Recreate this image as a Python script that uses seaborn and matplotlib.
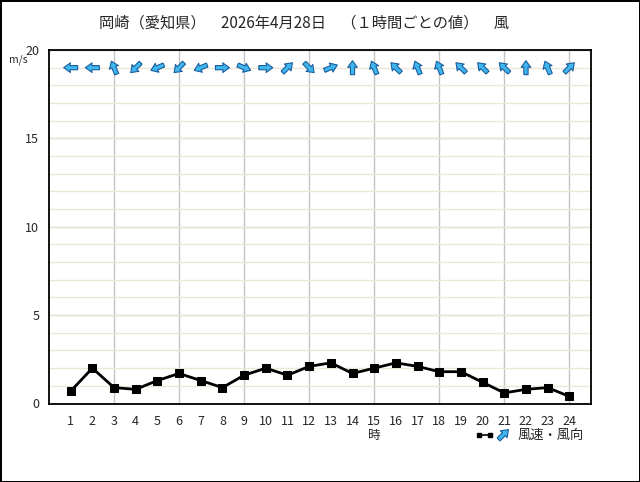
import numpy as np
import pandas as pd
import matplotlib
matplotlib.use("Agg")
import matplotlib.pyplot as plt
import seaborn as sns
from matplotlib.lines import Line2D

# hourly data
hours = list(range(1, 25))
speed = [0.7, 2.0, 0.9, 0.8, 1.3, 1.7, 1.3, 0.9, 1.6, 2.0, 1.6, 2.1,
         2.3, 1.7, 2.0, 2.3, 2.1, 1.8, 1.8, 1.2, 0.6, 0.8, 0.9, 0.4]
# wind direction (where the wind comes from)
direction = ['E', 'E', 'SSE', 'NE', 'ENE', 'NE', 'ENE', 'W', 'WNW', 'W', 'SW', 'NW',
             'WSW', 'S', 'SSE', 'SE', 'SSE', 'SSE', 'SE', 'SE', 'SE', 'S', 'SSE', 'SW']
title = '岡崎（愛知県）　2026年4月28日　（１時間ごとの値）　風'

compass = ['N', 'NNE', 'NE', 'ENE', 'E', 'ESE', 'SE', 'SSE',
           'S', 'SSW', 'SW', 'WSW', 'W', 'WNW', 'NW', 'NNW']
df = pd.DataFrame({'hour': hours, 'speed': speed, 'dir': direction})
# arrow points where the wind blows to
to_deg = np.deg2rad(np.array([compass.index(d) * 22.5 for d in df['dir']]) + 180)
df['u'] = np.sin(to_deg)
df['v'] = np.cos(to_deg)

sns.set_style('white')
plt.rcParams['font.family'] = ['Noto Sans CJK JP', 'DejaVu Sans']

ARROW_FACE = '#3fb6ee'
ARROW_EDGE = '#1a5d9c'
arrow_kw = dict(pivot='middle', angles='uv', units='dots', scale_units='dots',
                scale=1 / 14, width=4.2, headwidth=2.3, headlength=1.6,
                headaxislength=1.5, facecolor=ARROW_FACE, edgecolor=ARROW_EDGE,
                linewidth=0.8)

fig = plt.figure(figsize=(6.4, 4.82), dpi=100)
fig.patch.set_facecolor('white')
fig.patch.set_edgecolor('black')
fig.patch.set_linewidth(2)
ax = fig.add_axes([49 / 640, 1 - 403.5 / 482, 542 / 640, 353.5 / 482])

sns.lineplot(data=df, x='hour', y='speed', ax=ax, color='black', linewidth=2,
             marker='s', markersize=6, markeredgecolor='black', zorder=5)

arrow_y = np.full(len(df), 19.0)
ax.quiver(df['hour'], arrow_y, df['u'], df['v'], zorder=6, **arrow_kw)

ax.set_xlim(0, 25)
ax.set_ylim(0, 20)
ax.xaxis.remove_overlapping_locs = False
ax.yaxis.remove_overlapping_locs = False
ax.set_xticks(hours)
ax.set_xticklabels([str(h) for h in hours])
ax.set_xticks(range(3, 25, 3), minor=True)
ax.set_yticks([0, 5, 10, 15, 20])
ax.set_yticks(range(1, 20), minor=True)
ax.tick_params(which='both', length=0)
ax.tick_params(axis='x', pad=8, labelsize=9)
ax.tick_params(axis='y', pad=7, labelsize=9)
ax.set_axisbelow(True)
ax.grid(False)
ax.yaxis.grid(True, which='minor', color='#ece7d8', linewidth=1)
ax.yaxis.grid(True, which='major', color='#c4c4c4', linewidth=1)
ax.xaxis.grid(True, which='minor', color='#c4c4c4', linewidth=1)
ax.set_xlabel('')
ax.set_ylabel('')
for s in ax.spines.values():
    s.set_color('black')
    s.set_linewidth(1.3)

fig.text(304 / 640, 1 - 23 / 482, title, ha='center', va='center', fontsize=11)
fig.text(18 / 640, 1 - 60 / 482, 'm/s', ha='center', va='center', fontsize=7.5)
ax.annotate('時', xy=(15, 0), xycoords=('data', 'axes fraction'),
            xytext=(0, -23), textcoords='offset points', ha='center', va='center',
            fontsize=9)

# legend glyphs
fig.add_artist(Line2D([479 / 640, 490 / 640], [1 - 435 / 482] * 2, color='black',
                      linewidth=1.2, marker='s', markersize=2.5))
ax.quiver([503 / 640], [1 - 434 / 482], [np.sqrt(0.5)], [np.sqrt(0.5)],
          transform=fig.transFigure, clip_on=False, **arrow_kw)
fig.text(518 / 640, 1 - 435 / 482, '風速・風向', ha='left', va='center', fontsize=9.5)

fig.savefig('out.png', dpi=100)
